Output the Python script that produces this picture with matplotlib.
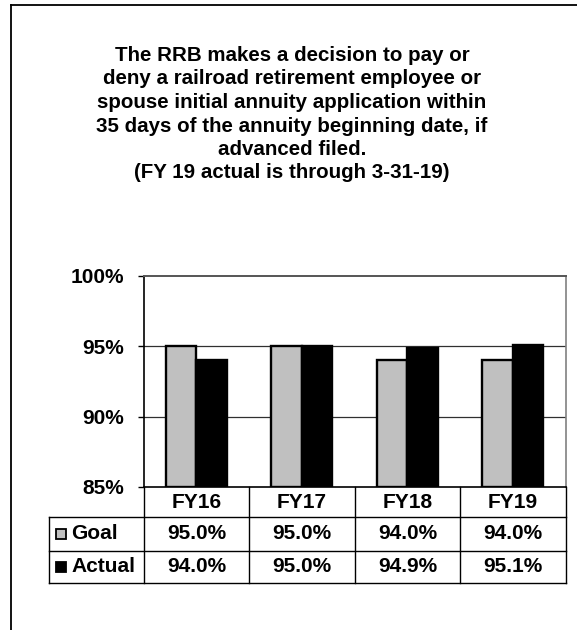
import matplotlib
matplotlib.use("Agg")
import matplotlib.pyplot as plt
from matplotlib.lines import Line2D
from matplotlib.patches import Rectangle
from matplotlib.transforms import blended_transform_factory
import numpy as np

plt.rcParams['font.family'] = ['Liberation Sans', 'DejaVu Sans']
plt.rcParams['font.weight'] = 'bold'

# ---- data ----
categories = ["FY16", "FY17", "FY18", "FY19"]
goal = [95.0, 95.0, 94.0, 94.0]
actual = [94.0, 95.0, 94.9, 95.1]
series_names = ["Goal", "Actual"]
yticks = [85, 90, 95, 100]
title = ("The RRB makes a decision to pay or\n"
         "deny a railroad retirement employee or\n"
         "spouse initial annuity application within\n"
         "35 days of the annuity beginning date, if\n"
         "advanced filed.\n"
         "(FY 19 actual is through 3-31-19)")

W, H = 577, 630
fig = plt.figure(figsize=(W / 100, H / 100), dpi=100)
fig.patch.set_facecolor("white")

def fx(px):
    return px / W

def fy(py):
    return 1 - py / H

# axes placement (pixels)
ax_l, ax_r, ax_t, ax_b = 143.7, 565.7, 275.7, 487.0
ax = fig.add_axes([fx(ax_l), fy(ax_b), fx(ax_r - ax_l), (ax_b - ax_t) / H])

x = np.arange(len(categories))
bw = 0.289
base = 85
ax.bar(x - bw / 2, np.array(goal) - base, bottom=base, width=bw, color="#C0C0C0",
       edgecolor="black", linewidth=1.7, zorder=3)
ax.bar(x + bw / 2, np.array(actual) - base, bottom=base, width=bw, color="black",
       edgecolor="black", linewidth=1.7, zorder=3)

ax.set_xlim(-0.5, len(categories) - 0.5)
ax.set_ylim(85, 100)
ax.set_yticks(yticks)
ax.set_yticklabels([f"{t}%" for t in yticks], fontsize=15, fontweight="bold")
ax.set_xticks([])
ax.tick_params(axis="y", direction="out", length=4, width=1, pad=10, color="black")
for t in yticks[1:-1]:
    ax.axhline(t, color="#303030", lw=0.9, zorder=1)
ax.spines["left"].set_color("black")
ax.spines["left"].set_linewidth(1.2)
ax.spines["bottom"].set_color("black")
ax.spines["bottom"].set_linewidth(1.2)
ax.spines["top"].set_color("#555555")
ax.spines["top"].set_linewidth(1.4)
ax.spines["right"].set_color("#808080")
ax.spines["right"].set_linewidth(1.2)

# ---- data table below the axes ----
row_y = [487.0, 517.0, 550.5, 583.0]
tab_left = 49.0
bt = blended_transform_factory(ax.transData, fig.transFigure)
lc = "black"
lw = 1.0
# horizontal lines
for ry in row_y[1:]:
    fig.add_artist(Line2D([fx(tab_left), fx(ax_r)], [fy(ry), fy(ry)], color=lc, lw=lw))
# vertical lines between categories
for i in range(len(categories) + 1):
    xb = i - 0.5
    fig.add_artist(Line2D([xb, xb], [fy(row_y[0]), fy(row_y[-1])], color=lc, lw=lw,
                          transform=bt))
# left border of legend column
fig.add_artist(Line2D([fx(tab_left), fx(tab_left)], [fy(row_y[1]), fy(row_y[-1])],
                      color=lc, lw=lw))

fs = 15
for i, c in enumerate(categories):
    fig.text(i, fy((row_y[0] + row_y[1]) / 2), c, transform=bt, ha="center",
             va="center", fontsize=fs, fontweight="bold")
    fig.text(i, fy((row_y[1] + row_y[2]) / 2), f"{goal[i]:.1f}%", transform=bt,
             ha="center", va="center", fontsize=fs, fontweight="bold")
    fig.text(i, fy((row_y[2] + row_y[3]) / 2), f"{actual[i]:.1f}%", transform=bt,
             ha="center", va="center", fontsize=fs, fontweight="bold")

colors = ["#C0C0C0", "black"]
for k, name in enumerate(series_names):
    cy = (row_y[k + 1] + row_y[k + 2]) / 2
    sq = 10
    fig.add_artist(Rectangle((fx(56), fy(cy + sq / 2)), fx(sq), sq / H,
                             facecolor=colors[k], edgecolor="black", lw=1.3,
                             transform=fig.transFigure))
    fig.text(fx(71), fy(cy), name, ha="left", va="center", fontsize=fs,
             fontweight="bold")

# ---- title ----
fig.text(fx(292), fy(46), title, ha="center", va="top", fontsize=14.8,
         fontweight="bold", linespacing=1.3)

# ---- outer frame ----
fig.add_artist(Line2D([fx(11.5), fx(11.5)], [fy(5), fy(630)], color="black", lw=1.3))
fig.add_artist(Line2D([fx(11.5), fx(577)], [fy(5), fy(5)], color="black", lw=1.3))

fig.savefig("out.png", dpi=100)
